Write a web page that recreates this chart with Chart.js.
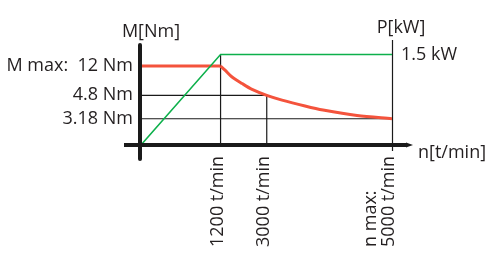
<!DOCTYPE html>
<html>
<head>
<meta charset="utf-8">
<script src="https://cdn.jsdelivr.net/npm/chart.js@4"></script>
<style>
  body { margin: 0; background: #fff; }
  canvas { display: block; }
</style>
</head>
<body>
<canvas id="chart" width="490" height="267"></canvas>
<script>
// speed ticks (rpm) and their labels
var rpmTicks = [1200, 3000, 5000];
var rpmTickLabels = ['1200 t/min', '3000 t/min', ['n max:', '5000 t/min']];

// torque ticks (Nm)
var torqueTicks = [3.18, 4.8, 12];
var torqueTickLabels = ['3.18 Nm', '4.8 Nm', 'M max:  12 Nm'];

// power ticks (kW)
var powerTicks = [1.5];
var powerTickLabels = ['1.5 kW'];

// torque curve: constant part, then falling part
var torqueFlatRpm = [0, 1200];
var torqueFlatNm = [12, 12];
var torqueFallRpm = [1200, 1375, 1648, 2038, 2427, 3000, 3244, 3611, 3899, 4441, 5000];
var torqueFallNm = [12, 11.0, 9.3, 7.7, 6.27, 4.8, 4.47, 4.06, 3.78, 3.4, 3.18];

// power curve
var powerRpm = [0, 1200, 5000];
var powerKw = [0, 1.5, 1.5];

var textColor = '#231f20';
var fontFamily = '"Open Sans", sans-serif';
var fontSize = 18;

// the drawing is schematic: values are placed at fixed fractions of the axis
class StopScale extends Chart.LinearScale {
    _toDecimal(value) {
        var stops = this.options.stops;
        for (var i = 1; i < stops.length; i++) {
            if (value <= stops[i][0] || i === stops.length - 1) {
                var a = stops[i - 1], b = stops[i];
                return a[1] + (value - a[0]) / (b[0] - a[0]) * (b[1] - a[1]);
            }
        }
        return 0;
    }
    getPixelForValue(value) {
        return this.getPixelForDecimal(this._toDecimal(value));
    }
    getValueForPixel(pixel) {
        var d = this.getDecimalForPixel(pixel);
        var stops = this.options.stops;
        for (var i = 1; i < stops.length; i++) {
            if (d <= stops[i][1] || i === stops.length - 1) {
                var a = stops[i - 1], b = stops[i];
                return a[0] + (d - a[1]) / (b[1] - a[1]) * (b[0] - a[0]);
            }
        }
        return 0;
    }
}
StopScale.id = 'stops';
StopScale.defaults = {};
Chart.register(StopScale);

function toPoints(xs, ys) {
    var points = [];
    for (var i = 0; i < xs.length; i++) {
        points.push({x: xs[i], y: ys[i]});
    }
    return points;
}

function setTicks(values) {
    return function(scale) {
        scale.ticks = values.map(function(v) { return {value: v}; });
    };
}

function labelFor(values, labels) {
    return function(value) {
        return labels[values.indexOf(value)];
    };
}

function guide(points, axis) {
    return {
        data: points,
        yAxisID: axis,
        borderColor: '#1a1a1a',
        borderWidth: 1.2,
        pointRadius: 0,
        fill: false,
        order: 3
    };
}

var axesPlugin = {
    id: 'axes',
    beforeDatasetsDraw: function(chart) {
        var ctx = chart.ctx, area = chart.chartArea;
        var xr = Math.round(chart.scales.x.getPixelForValue(5000)) + 0.5;
        ctx.save();
        ctx.strokeStyle = '#1a1a1a';
        ctx.lineWidth = 1.2;
        ctx.beginPath();
        ctx.moveTo(xr, area.top);
        ctx.lineTo(xr, area.bottom + 6);
        ctx.stroke();
        ctx.restore();
    },
    afterDraw: function(chart) {
        var ctx = chart.ctx, area = chart.chartArea;
        var xScale = chart.scales.x;
        var x0 = xScale.getPixelForValue(0) - 1;
        var y0 = chart.scales.y.getPixelForValue(0);
        ctx.save();
        ctx.fillStyle = '#1a1a1a';
        ctx.strokeStyle = '#1a1a1a';
        ctx.lineWidth = 4;
        ctx.lineCap = 'round';
        // vertical torque axis
        ctx.beginPath();
        ctx.moveTo(x0, area.top + 5);
        ctx.lineTo(x0, area.bottom + 14);
        ctx.stroke();
        // horizontal speed axis with small tip
        ctx.lineCap = 'butt';
        ctx.beginPath();
        ctx.moveTo(area.left - 17, y0);
        ctx.lineTo(area.right + 15, y0);
        ctx.stroke();
        ctx.beginPath();
        ctx.moveTo(area.right + 14, y0 - 2.5);
        ctx.lineTo(area.right + 21, y0);
        ctx.lineTo(area.right + 14, y0 + 2.5);
        ctx.closePath();
        ctx.fill();

        // axis titles
        ctx.fillStyle = textColor;
        ctx.font = fontSize + 'px ' + fontFamily;
        ctx.textBaseline = 'alphabetic';
        ctx.textAlign = 'center';
        ctx.fillText('M[Nm]', area.left + 10, area.top - 3);
        ctx.fillText('P[kW]', area.right + 9, area.top - 7);
        ctx.textAlign = 'left';
        ctx.fillText('n[t/min]', area.right + 26, y0 + 13);

        // rotated speed labels, reading upwards from a common baseline
        var lineGap = 18;
        xScale.ticks.forEach(function(tick) {
            var lines = [].concat(rpmTickLabels[rpmTicks.indexOf(tick.value)]);
            var px = xScale.getPixelForValue(tick.value);
            lines.forEach(function(line, j) {
                var cx = px - 3 - (lines.length - 1 - j) * lineGap;
                ctx.save();
                ctx.translate(cx, 247);
                ctx.rotate(-Math.PI / 2);
                ctx.textAlign = 'left';
                ctx.textBaseline = 'middle';
                ctx.fillText(line, 0, 0);
                ctx.restore();
            });
        });
        ctx.restore();
    }
};

new Chart(document.getElementById('chart'), {
    type: 'line',
    data: {
        datasets: [
            guide([{x: 0, y: 4.8}, {x: 3000, y: 4.8}, {x: 3000, y: 0}], 'y'),
            guide([{x: 0, y: 3.18}, {x: 5000, y: 3.18}], 'y'),
            guide([{x: 1200, y: 0}, {x: 1200, y: 1.5}], 'y2'),
            {
                label: 'M',
                data: toPoints(torqueFlatRpm, torqueFlatNm),
                yAxisID: 'y',
                borderColor: '#f4533c',
                borderWidth: 3,
                pointRadius: 0,
                order: 2
            },
            {
                label: 'M',
                data: toPoints(torqueFallRpm, torqueFallNm),
                yAxisID: 'y',
                borderColor: '#f4533c',
                borderWidth: 3,
                pointRadius: 0,
                tension: 0.3,
                order: 2
            },
            {
                label: 'P',
                data: toPoints(powerRpm, powerKw),
                yAxisID: 'y2',
                borderColor: '#0db04b',
                borderWidth: 1.5,
                pointRadius: 0,
                order: 1
            }
        ]
    },
    options: {
        responsive: false,
        animation: false,
        layout: { padding: { top: 40, left: 0, right: 0, bottom: 0 } },
        plugins: {
            legend: { display: false },
            tooltip: { enabled: false }
        },
        scales: {
            x: {
                type: 'stops',
                position: 'bottom',
                min: 0,
                max: 5000,
                stops: [[0, 0], [1200, 0.317], [3000, 0.501], [5000, 1]],
                grid: { display: false, drawTicks: false },
                border: { display: false },
                ticks: { display: false },
                afterBuildTicks: setTicks(rpmTicks),
                afterFit: function(s) { s.height = 122; }
            },
            y: {
                type: 'stops',
                position: 'left',
                min: 0,
                max: 16,
                stops: [[0, 0], [3.18, 0.25], [4.8, 0.473], [12, 0.752], [16, 1]],
                grid: { display: false, drawTicks: false },
                border: { display: false },
                ticks: {
                    color: textColor,
                    padding: 8,
                    font: { family: fontFamily, size: fontSize },
                    callback: labelFor(torqueTicks, torqueTickLabels)
                },
                afterBuildTicks: setTicks(torqueTicks),
                afterFit: function(s) { s.width = 141; }
            },
            y2: {
                type: 'linear',
                position: 'right',
                min: 0,
                max: 1.74,
                grid: { display: false, drawTicks: false },
                border: { display: false },
                ticks: {
                    color: textColor,
                    padding: 9,
                    font: { family: fontFamily, size: fontSize },
                    callback: labelFor(powerTicks, powerTickLabels)
                },
                afterBuildTicks: setTicks(powerTicks),
                afterFit: function(s) { s.width = 98; }
            }
        }
    },
    plugins: [axesPlugin]
});
</script>
</body>
</html>
